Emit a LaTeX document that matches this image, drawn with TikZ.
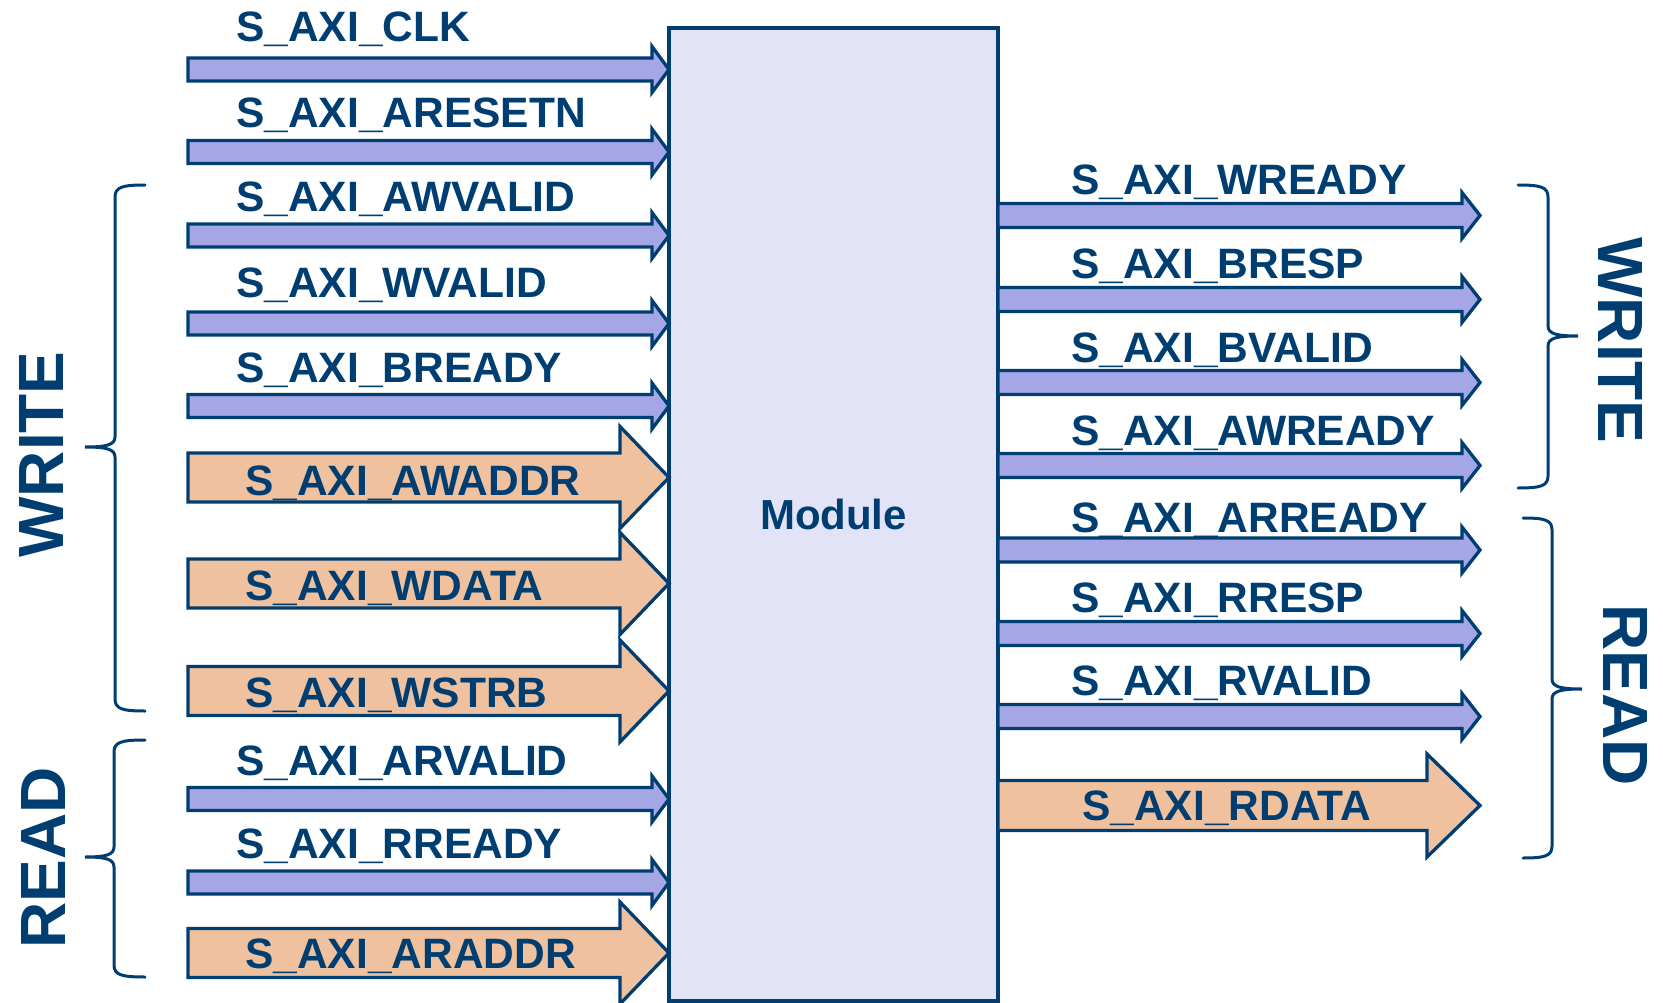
\documentclass[tikz,border=0pt]{standalone}
\usepackage{fontspec}
\setmainfont{Liberation Sans}
\usetikzlibrary{calc}

\definecolor{navy}{RGB}{0,62,114}
\definecolor{sigblue}{RGB}{164,166,230}
\definecolor{sigorange}{RGB}{240,193,158}
\definecolor{modfill}{RGB}{226,227,246}

\tikzset{
  lbl/.style={anchor=base west, inner sep=0pt, text=navy,
    font=\fontsize{42.5}{48}\selectfont\bfseries},
  grp/.style={inner sep=0pt, text=navy,
    font=\fontsize{64}{70}\selectfont\bfseries},
  bluesig/.style={draw=navy, fill=sigblue, line width=3.3pt},
  orangesig/.style={draw=navy, fill=sigorange, line width=3.3pt},
  brace/.style={draw=navy, line width=3pt, line cap=round},
}

% block arrow: style, tail point, tip point, shaft half height, head half height, head length
\newcommand\sigarrow[6]{%
  \path[#1] let \p1=(#2), \p2=(#3) in
    (\x1,\y1+#4) -- (\x2-#6,\y1+#4) -- (\x2-#6,\y1+#5) -- (\x2,\y1)
    -- (\x2-#6,\y1-#5) -- (\x2-#6,\y1-#4) -- (\x1,\y1-#4) -- cycle;}

% curly group brace: spine x, top y, bottom y, tip y, reach of ends, reach of tip
\newcommand\grpbrace[6]{%
  \draw[brace] ({#1+#5},#2) .. controls ({#1+0.25*#5},#2) and (#1,{#2+2}) .. (#1,{#2+12})
    -- (#1,{#4-10}) .. controls (#1,{#4-2}) and ({#1+0.3*#6},#4) .. ({#1+#6},#4)
    .. controls ({#1+0.3*#6},#4) and (#1,{#4+2}) .. (#1,{#4+10})
    -- (#1,{#3-12}) .. controls (#1,{#3-2}) and ({#1+0.25*#5},#3) .. ({#1+#5},#3);}

\begin{document}
\begin{tikzpicture}[x=1pt, y=-1pt]
\useasboundingbox (0,0) rectangle (1663,1003);

% the module
\node[draw=navy, fill=modfill, line width=4.5pt, inner sep=0pt, outer sep=0pt,
      minimum width=329pt, minimum height=973pt, anchor=north west,
      text=navy, font=\fontsize{42}{48}\selectfont\bfseries] (mod) at (669,28) {Module};

% inputs: single-bit signals
\foreach \nm/\yy/\ly/\tx in {
    clk/69.5/41.7/S\_AXI\_CLK,
    aresetn/152/128/S\_AXI\_ARESETN,
    awvalid/235.5/212/S\_AXI\_AWVALID,
    wvalid/323.5/297/S\_AXI\_WVALID,
    bready/406/382/S\_AXI\_BREADY,
    arvalid/799/775/S\_AXI\_ARVALID,
    rready/882.5/858/S\_AXI\_RREADY} {
  \coordinate (\nm) at (188,\yy);
  \coordinate (\nm-tip) at (\nm -| mod.west);
  \sigarrow{bluesig}{\nm}{\nm-tip}{11.5pt}{23pt}{17pt}
  \node[lbl] (\nm-lbl) at (236,\ly) {\tx};
}

% inputs: buses
\foreach \nm/\yy/\ly/\tx in {
    awaddr/477.5/495/S\_AXI\_AWADDR,
    wdata/583.5/600/S\_AXI\_WDATA,
    wstrb/691/707/S\_AXI\_WSTRB,
    araddr/953/968/S\_AXI\_ARADDR} {
  \coordinate (\nm) at (188,\yy);
  \coordinate (\nm-tip) at (\nm -| mod.west);
  \sigarrow{orangesig}{\nm}{\nm-tip}{24.5pt}{51pt}{49pt}
  \node[lbl] (\nm-lbl) at (245,\ly) {\tx};
}

% outputs: single-bit signals
\foreach \nm/\yy/\ly/\tx in {
    wready/215.5/195/S\_AXI\_WREADY,
    bresp/299.5/278/S\_AXI\_BRESP,
    bvalid/382.5/362/S\_AXI\_BVALID,
    awready/465.5/445/S\_AXI\_AWREADY,
    arready/550/532/S\_AXI\_ARREADY,
    rresp/633.5/612/S\_AXI\_RRESP,
    rvalid/716.5/695/S\_AXI\_RVALID} {
  \coordinate (\nm) at (1480,\yy);
  \coordinate (\nm-tail) at (\nm -| mod.east);
  \sigarrow{bluesig}{\nm-tail}{\nm}{12pt}{23pt}{18pt}
  \node[lbl] (\nm-lbl) at (1071,\ly) {\tx};
}

% output bus
\coordinate (rdata) at (1480,805.5);
\coordinate (rdata-tail) at (rdata -| mod.east);
\sigarrow{orangesig}{rdata-tail}{rdata}{25pt}{51.5pt}{53pt}
\node[lbl] (rdata-lbl) at (1082,820.7) {S\_AXI\_RDATA};

% channel groups
\grpbrace{115}{185}{711}{447}{30}{-30}
\grpbrace{114}{740}{977}{857}{31}{-29}
\grpbrace{1548}{185}{488}{336}{-30}{30}
\grpbrace{1552}{518}{858}{689}{-29}{30}

\node[grp, rotate=90] (wr-l) at (41.5,454.5) {WRITE};
\node[grp, rotate=90] (rd-l) at (43.5,858) {READ};
\node[grp, rotate=-90] (wr-r) at (1620,340.5) {WRITE};
\node[grp, rotate=-90] (rd-r) at (1625,695) {READ};
\end{tikzpicture}
\end{document}
